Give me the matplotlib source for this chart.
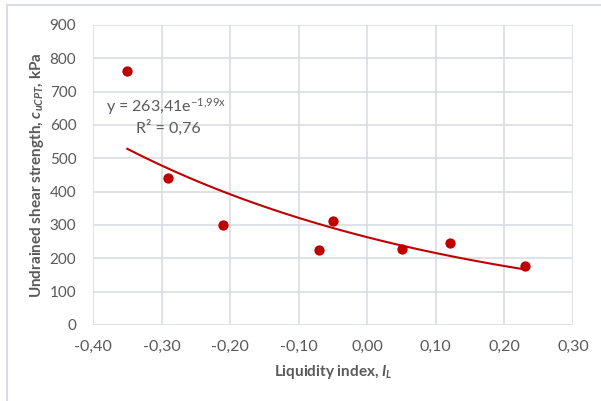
import numpy as np
import matplotlib
matplotlib.use('Agg')
import matplotlib.pyplot as plt
from matplotlib.lines import Line2D

# data
liquidity_index = [-0.35, -0.29, -0.21, -0.07, -0.05, 0.05, 0.12, 0.23]
shear_strength = [762, 442, 300, 224, 313, 228, 247, 178]

# exponential trendline from the label
fit_a = 263.41
fit_b = -1.99

plt.rcParams['font.family'] = ['Lato', 'DejaVu Sans']
plt.rcParams['mathtext.fontset'] = 'custom'
plt.rcParams['mathtext.rm'] = 'Lato'
plt.rcParams['mathtext.it'] = 'Lato:italic'
plt.rcParams['mathtext.bf'] = 'Lato:bold'
plt.rcParams['mathtext.bfit'] = 'Lato:bold:italic'
txt = '#595959'
grid = '#d9dde3'
red = '#c00000'

fig = plt.figure(figsize=(6.01, 4.01), dpi=100)
ax = fig.add_axes([93 / 601, 1 - 325 / 401, (573 - 93) / 601, (325 - 25) / 401])

xt = np.linspace(min(liquidity_index), max(liquidity_index), 100)
ax.plot(xt, fit_a * np.exp(fit_b * xt), color=red, lw=1.5, zorder=3)
ax.scatter(liquidity_index, shear_strength, s=55, color=red, zorder=4, linewidths=0)

ax.set_xlim(-0.40, 0.30)
ax.set_ylim(0, 900)
xticks = np.arange(-0.40, 0.301, 0.10)
ax.set_xticks(xticks)
ax.set_xticklabels(['{:.2f}'.format(v).replace('.', ',').replace('-0,00', '0,00') for v in xticks])
ax.set_yticks(range(0, 901, 100))
ax.grid(True, color=grid, lw=1.2)
ax.set_axisbelow(True)
for s in ax.spines.values():
    s.set_visible(False)
ax.tick_params(length=0, colors=txt, labelsize=11.5)
ax.tick_params(axis='x', pad=11)
ax.tick_params(axis='y', pad=12, labelsize=11)

ax.set_xlabel('Liquidity index, $\\mathbfit{I_L}$', color=txt, fontsize=11, fontweight='bold', labelpad=6)
ax.set_ylabel('Undrained shear strength, $\\mathbfit{c_{uCPT}}$, kPa', color=txt, fontsize=11,
              fontweight='bold', labelpad=3)

ax.text(-0.293, 655, 'y = 263,41e$^{\\mathrm{-1{,}99x}}$', color=txt, fontsize=11.5,
        ha='center', va='center')
ax.text(-0.29, 590, 'R² = 0,76', color=txt, fontsize=11.5, ha='center', va='center')

# outer chart border (left and top edges visible)
fig.add_artist(Line2D([7 / 601, 7 / 601], [0, 1 - 5 / 401], color=grid, lw=1.5))
fig.add_artist(Line2D([7 / 601, 1], [1 - 5 / 401, 1 - 5 / 401], color=grid, lw=1.5))

fig.savefig('out.png', dpi=100)
